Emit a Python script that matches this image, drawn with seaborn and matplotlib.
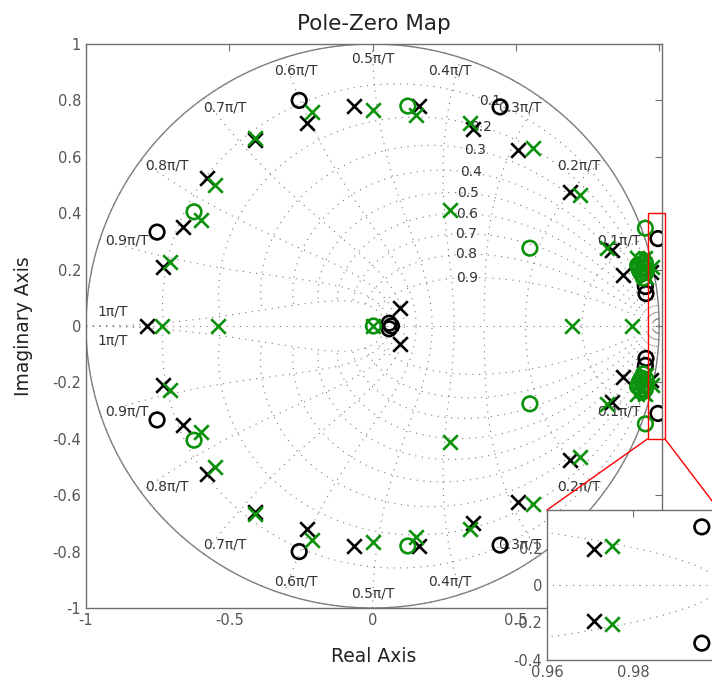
import numpy as np
import pandas as pd
import matplotlib
matplotlib.use("Agg")
import matplotlib.pyplot as plt
import seaborn as sns
from matplotlib.patches import Rectangle, ConnectionPatch
from matplotlib.ticker import FuncFormatter

# upper half of each pole/zero set (the lower half is the conjugate), plus the real-axis ones
black_pole_re = [-0.229, -0.41, -0.578, -0.661, -0.731, -0.065, 0.162, 0.35, 0.507, 0.689, 0.835, 0.874, 0.096, 0.971]
black_pole_im = [0.72, 0.66, 0.525, 0.351, 0.209, 0.78, 0.78, 0.70, 0.624, 0.475, 0.27, 0.18, 0.064, 0.19]
black_pole_real = [-0.787]

black_zero_re = [-0.256, -0.752, 0.445, 0.996, 0.952, 0.954, 0.058]
black_zero_im = [0.80, 0.333, 0.777, 0.31, 0.14, 0.115, 0.01]
black_zero_real = [0.066]

green_pole_re = [-0.21, -0.41, -0.55, -0.60, -0.706, 0.0, 0.151, 0.34, 0.56, 0.724, 0.27, 0.818, 0.975,
                 0.922, 0.952, 0.955]
green_pole_im = [0.76, 0.667, 0.50, 0.375, 0.227, 0.766, 0.748, 0.72, 0.63, 0.464, 0.41, 0.276, 0.21,
                 0.24, 0.24, 0.175]
green_pole_real = [-0.734, -0.54, 0.696, 0.905, 0.003]

green_zero_re = [-0.623, 0.123, 0.549, 0.952, 0.925, 0.94, 0.95, 0.935, 0.945, 0.952,
                 0.93, 0.945, 0.94, 0.955]
green_zero_im = [0.405, 0.78, 0.276, 0.347, 0.215, 0.235, 0.205, 0.19, 0.17, 0.225,
                 0.2, 0.21, 0.185, 0.19]
green_zero_real = [0.003]

# zgrid: damping ratios and natural frequencies (in units of pi/T)
zetas = [0.1, 0.2, 0.3, 0.4, 0.5, 0.6, 0.7, 0.8, 0.9]
wns = [0.1, 0.2, 0.3, 0.4, 0.5, 0.6, 0.7, 0.8, 0.9, 1.0]
wn_labels = ["0.1π/T", "0.2π/T", "0.3π/T", "0.4π/T", "0.5π/T",
             "0.6π/T", "0.7π/T", "0.8π/T", "0.9π/T", "1π/T"]

# zoom window
zoom_x = (0.96, 1.0)
zoom_y = (-0.4, 0.4)
box_x = (0.96, 1.02)


def full_set(re, im, real, system, kind):
    x = list(re) + list(re) + list(real)
    y = list(im) + [-v for v in im] + [0.0] * len(real)
    return pd.DataFrame({"re": x, "im": y, "system": system, "kind": kind})


pz = pd.concat([
    full_set(black_pole_re, black_pole_im, black_pole_real, "sys1", "pole"),
    full_set(black_zero_re, black_zero_im, black_zero_real, "sys1", "zero"),
    full_set(green_pole_re, green_pole_im, green_pole_real, "sys2", "pole"),
    full_set(green_zero_re, green_zero_im, green_zero_real, "sys2", "zero"),
], ignore_index=True)

colors = {"sys1": "black", "sys2": "#0b910b"}

sns.set_style("white")
plt.rcParams["font.family"] = ["DejaVu Sans"]
plt.rcParams["axes.unicode_minus"] = False

grid_kw = dict(color="#7a7a7a", lw=0.8, ls=(0, (1, 5)))


def draw_grid(ax, full=True):
    t = np.linspace(0, np.pi, 300)
    curves = [0.0] + zetas if full else [0.0]
    for z in curves:
        p = np.exp((-z + 1j * np.sqrt(1 - z ** 2)) * t)
        ax.plot(p.real, p.imag, **grid_kw)
        ax.plot(p.real, -p.imag, **grid_kw)
    if full:
        zz = np.linspace(0, 1, 200)
        for w in wns:
            p = np.exp(w * np.pi * (-zz + 1j * np.sqrt(1 - zz ** 2)))
            ax.plot(p.real, p.imag, **grid_kw)
            ax.plot(p.real, -p.imag, **grid_kw)
    ax.plot([-1, 1], [0, 0], **grid_kw)
    if full:
        th = np.linspace(0, 2 * np.pi, 500)
        ax.plot(np.cos(th), np.sin(th), color="#7f7f7f", lw=1.0)


def draw_points(ax):
    for (system, kind), d in pz.groupby(["system", "kind"], sort=False):
        c = colors[system]
        if kind == "pole":
            sns.scatterplot(data=d, x="re", y="im", marker="x", s=110, color=c,
                            linewidth=1.9, ax=ax, zorder=4, legend=False)
        else:
            sns.scatterplot(data=d, x="re", y="im", marker="o", s=110, facecolor="none",
                            edgecolor=c, linewidth=1.9, ax=ax, zorder=4, legend=False)


fmt = FuncFormatter(lambda v, pos: f"{round(v, 2) + 0:g}")


def style_axes(ax):
    for s in ax.spines.values():
        s.set_color("#6f6f6f")
        s.set_linewidth(1.0)
    ax.tick_params(direction="in", top=True, right=True, length=5, width=0.8,
                   color="#6f6f6f", labelcolor="#555555", labelsize=10.5)
    ax.xaxis.set_major_formatter(fmt)
    ax.yaxis.set_major_formatter(fmt)
    ax.set_xlabel("")
    ax.set_ylabel("")


fig = plt.figure(figsize=(7.12, 6.85), dpi=100)
ax = fig.add_axes([86 / 712, 1 - 608 / 685, 576 / 712, 564 / 685])

draw_grid(ax)
draw_points(ax)

# damping labels along the zeta curves
for z in zetas:
    t = 1.1
    p = np.exp((-z + 1j * np.sqrt(1 - z ** 2)) * t)
    ax.text(p.real, p.imag, f"{z:g}", ha="center", va="center", fontsize=10, color="#333333")

# natural-frequency labels just inside the unit circle
for w, lab in zip(wns, wn_labels):
    ang = min(w * np.pi, 0.984 * np.pi)
    ang = ang + np.radians(2.5) * np.sin(2 * ang)
    r = 0.91 + 0.04 * np.sin(ang) ** 4
    for sgn in (1, -1):
        ax.text(r * np.cos(ang), sgn * r * np.sin(ang), lab, ha="center", va="center",
                fontsize=10, color="#333333")

ax.set_xlim(-1, 1.01)
ax.set_ylim(-1, 1)
ax.set_xticks([-1, -0.5, 0, 0.5, 1])
ax.set_yticks(np.round(np.arange(-1, 1.01, 0.2), 1))
style_axes(ax)
ax.set_title("Pole-Zero Map", fontsize=15.5, color="#222222", pad=10)
ax.set_xlabel("Real Axis", fontsize=13.5, color="#222222", labelpad=14)
ax.set_ylabel("Imaginary Axis", fontsize=13.5, color="#222222", labelpad=14)

# zoom box on the main axes
ax.add_patch(Rectangle((box_x[0], zoom_y[0]), box_x[1] - box_x[0], zoom_y[1] - zoom_y[0],
                       fill=False, ec="red", lw=1.0, clip_on=False, zorder=6))

# inset
axin = fig.add_axes([547 / 712, 1 - 660 / 685, 172 / 712, 150 / 685])
axin.set_facecolor("white")
draw_grid(axin, full=False)
draw_points(axin)
axin.set_xlim(*zoom_x)
axin.set_ylim(*zoom_y)
axin.set_xticks([0.96, 0.98])
axin.set_yticks([-0.4, -0.2, 0, 0.2])
style_axes(axin)

for xa, xb in [(box_x[0], zoom_x[0]), (box_x[1], zoom_x[1])]:
    con = ConnectionPatch(xyA=(xa, zoom_y[0]), coordsA=ax.transData,
                          xyB=(xb, zoom_y[1]), coordsB=axin.transData,
                          color="red", lw=1.0)
    fig.add_artist(con)

fig.savefig("out.png", dpi=100)
